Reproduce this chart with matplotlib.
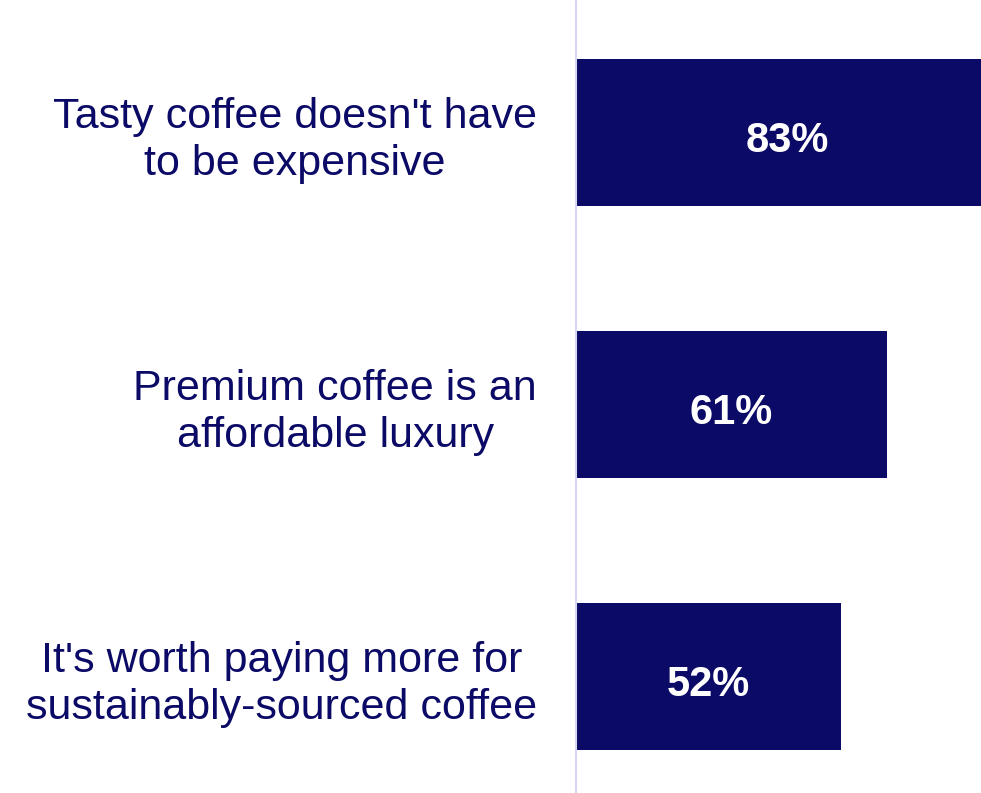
import matplotlib
matplotlib.use("Agg")
import matplotlib.pyplot as plt

statements = [
    "Tasty coffee doesn't have\nto be expensive",
    "Premium coffee is an\naffordable luxury",
    "It's worth paying more for\nsustainably-sourced coffee",
]
shares = [83, 61, 52]
value_labels = ["83%", "61%", "52%"]

navy = "#0b0a66"
lavender = "#d5d5f5"

plt.rcParams["font.family"] = ["Liberation Sans", "DejaVu Sans"]

fig = plt.figure(figsize=(9.81, 7.93), dpi=100)
ax = fig.add_axes([576 / 981, 0, 405 / 981, 1])

pos = list(range(len(shares)))
ax.barh(pos, shares, height=0.54, color=navy, zorder=2)

# value in the middle of each bar, baseline a little below the bar centre
for p, v, lab in zip(pos, shares, value_labels):
    ax.annotate(lab, (v / 2, p), xytext=(0, -14), textcoords="offset points",
                ha="center", va="baseline", color="white",
                fontsize=30, fontweight="bold", zorder=3)

ax.set_xlim(0, 79.46)
ax.set_ylim(2.428, -0.487)

ax.set_yticks(pos)
ax.set_yticklabels(statements, multialignment="center", fontsize=31,
                   color=navy, linespacing=1.22)
ax.tick_params(axis="y", length=0, pad=28)
ax.set_xticks([])

for s in ["top", "right", "bottom"]:
    ax.spines[s].set_visible(False)
ax.spines["left"].set_color(lavender)
ax.spines["left"].set_linewidth(1.5)

fig.savefig("out.png", dpi=100)
